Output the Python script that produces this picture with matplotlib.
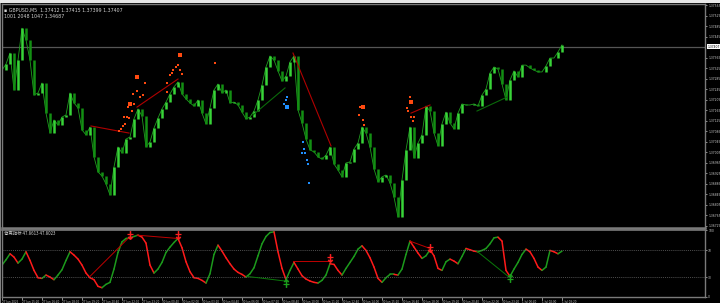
import matplotlib
matplotlib.use("Agg")
import matplotlib.pyplot as plt
import numpy as np
from matplotlib.collections import LineCollection
from matplotlib.patches import Rectangle
from matplotlib import font_manager

W, H, DPI = 720, 303, 100

# ---------------- data ----------------
closes = [
    1.37318, 1.37341, 1.37383, 1.37242, 1.37356, 1.37478, 1.37433, 1.37356, 1.37223, 1.37231,
    1.37269, 1.37154, 1.37078, 1.37128, 1.37109, 1.37139, 1.37147, 1.37231, 1.37193, 1.37174,
    1.37090, 1.37071, 1.37101, 1.36987, 1.36930, 1.36914, 1.36884, 1.36842, 1.36949, 1.37025,
    1.37002, 1.37055, 1.37063, 1.37132, 1.37170, 1.37143, 1.37025, 1.37044, 1.37097, 1.37135,
    1.37170, 1.37196, 1.37227, 1.37254, 1.37273, 1.37227, 1.37208, 1.37193, 1.37181, 1.37204,
    1.37154, 1.37113, 1.37174, 1.37242, 1.37265, 1.37231, 1.37242, 1.37193, 1.37196, 1.37185,
    1.37158, 1.37132, 1.37139, 1.37162, 1.37204, 1.37261, 1.37330, 1.37372, 1.37356, 1.37315,
    1.37276, 1.37295, 1.37349, 1.37372, 1.37166, 1.37116, 1.37055, 1.37014, 1.37006, 1.36987,
    1.36979, 1.36994, 1.37025, 1.36960, 1.36937, 1.36911, 1.36964, 1.36968, 1.37017, 1.37040,
    1.37101, 1.37078, 1.37025, 1.36941, 1.36892, 1.36911, 1.36918, 1.36888, 1.36834, 1.36758,
    1.36899, 1.37014, 1.37101, 1.36983, 1.37040, 1.37071, 1.37181, 1.37162, 1.37078, 1.37029,
    1.37113, 1.37158, 1.37116, 1.37094, 1.37154, 1.37189, 1.37185, 1.37185, 1.37189, 1.37181,
    1.37223, 1.37246, 1.37307, 1.37330, 1.37322, 1.37265, 1.37204, 1.37280, 1.37315, 1.37292,
    1.37337, 1.37337, 1.37326, 1.37318, 1.37311, 1.37311, 1.37334, 1.37364, 1.37364, 1.37387,
    1.37414,
]

osc_values = [
    48, 56, 65, 60, 51, 57, 68, 55, 40, 29,
    28, 33, 30, 26, 33, 41, 55, 68, 63, 57,
    48, 36, 29, 26, 16, 14, 19, 22, 42, 67,
    83, 88, 89, 91, 93, 90, 81, 48, 36, 42,
    52, 67, 75, 82, 88, 74, 53, 38, 29, 28,
    25, 21, 35, 64, 78, 69, 59, 50, 42, 37,
    34, 30, 35, 44, 62, 80, 91, 97, 98, 68,
    43, 26, 40, 52, 42, 32, 27, 24, 22, 21,
    25, 33, 50, 49, 40, 33, 43, 52, 61, 72,
    77, 70, 59, 45, 28, 22, 29, 34, 34, 33,
    42, 64, 84, 75, 66, 58, 62, 71, 62, 43,
    40, 53, 57, 54, 50, 61, 73, 71, 69, 68,
    70, 73, 80, 89, 90, 84, 40, 31, 42, 52,
    64, 72, 68, 58, 45, 40, 45, 70, 68, 65,
    69,
]

# divergence lines on price chart: (bar0, price0, bar1, price1)
price_bear_lines = [(22.25, 1.37105, 31.75, 1.37078), (33.75, 1.37177, 44.0, 1.37284),
                    (72.75, 1.37383, 82.25, 1.37029), (102.25, 1.37154, 107.0, 1.37185)]
price_bull_lines = [(62.75, 1.37147, 70.75, 1.37250), (118.75, 1.37162, 126.25, 1.37215)]

# divergence lines on oscillator
osc_bear_lines = [(22.0, 31, 32.0, 91), (33.75, 93, 44.0, 88), (72.75, 54, 82.25, 54), (102.0, 84, 107.0, 73)]
osc_bull_lines = [(61.25, 31, 70.75, 24), (118.5, 70, 126.75, 30)]

# signal arrows on oscillator
sell_bars = [32, 44, 82, 107]
sell_vals = [93, 93, 58, 73]
buy_bars = [71, 127]
buy_vals = [21, 28]

# dots on price chart
orange_bars = [33.75, 32.75, 33.75, 35.75, 35.25, 34.5, 32, 33, 31.5, 32.5, 31.25, 30.5, 31.75, 30.75,
               30.25, 29.75, 29.25, 44.5, 44, 43.5, 42.75, 44.5, 42.5, 45, 42, 41.25, 41.25, 53.25,
               90.25, 89.5, 89.25, 90.25, 90.5, 102, 102.25, 101.25, 101.5, 102.25, 103, 102.75]
orange_prices = [1.37292, 1.37227, 1.37238, 1.37269, 1.37223, 1.37215, 1.37189, 1.37189, 1.37177, 1.37162,
                 1.37139, 1.37139, 1.37135, 1.37113, 1.37105, 1.37094, 1.37086, 1.37375, 1.37337, 1.37330,
                 1.37318, 1.37318, 1.37307, 1.37303, 1.37299, 1.37269, 1.37235, 1.37345,
                 1.37177, 1.37177, 1.37147, 1.37128, 1.37109, 1.37215, 1.37196, 1.37174, 1.37162,
                 1.37139, 1.37139, 1.37124]
orange_big = [1, 0, 0, 0, 0, 0, 1, 0, 0, 0, 0, 0, 0, 0, 0, 0, 0, 1, 0, 0, 0, 0, 0, 0, 0, 0, 0, 0,
              1, 0, 0, 0, 0, 0, 1, 0, 0, 0, 0, 0]
blue_bars = [71.25, 71, 70.5, 71.25, 75.25, 75.5, 75, 75.75, 76.25, 76.5, 76.75]
blue_prices = [1.37215, 1.37204, 1.37189, 1.37177, 1.37044, 1.37017, 1.37002, 1.37002, 1.36975, 1.36960, 1.36888]
blue_big = [0, 0, 0, 1, 0, 0, 0, 0, 0, 0, 0]

price_ticks = [1.37565, 1.37525, 1.37485, 1.37445, 1.37365, 1.37325, 1.37285, 1.37245, 1.37205,
               1.37165, 1.37125, 1.37085, 1.37045, 1.37005, 1.36965, 1.36925, 1.36885, 1.36845,
               1.36805, 1.36765, 1.36725]
current_price = 1.37407
osc_ticks = [100, 70, 30, 0]
time_labels = ["27 Jun 2025", "27 Jun 15:20", "27 Jun 16:40", "27 Jun 18:00", "27 Jun 19:20",
               "27 Jun 20:40", "27 Jun 22:00", "27 Jun 23:20", "30 Jun 00:40", "30 Jun 02:00",
               "30 Jun 03:20", "30 Jun 04:40", "30 Jun 06:00", "30 Jun 07:20", "30 Jun 08:40",
               "30 Jun 10:00", "30 Jun 11:20", "30 Jun 12:40", "30 Jun 14:00", "30 Jun 15:20",
               "30 Jun 16:40", "30 Jun 18:00", "30 Jun 19:20", "30 Jun 20:40", "30 Jun 22:00",
               "30 Jun 23:20", "1 Jul 00:40", "1 Jul 02:00", "1 Jul 03:20"]
title_line1 = "\u25aa GBPUSD,M5  1.37412 1.37415 1.37399 1.37407"
title_line2 = "1001 2048 1047 1.34687"
osc_title = "背离指标 47.8613 47.8023"

# narrow font for the tiny axis labels, if installed
names = {f.name for f in font_manager.fontManager.ttflist}
NARROW = "Liberation Sans Narrow" if "Liberation Sans Narrow" in names else "DejaVu Sans"
small_fp_size = 2.7 if NARROW != "DejaVu Sans" else 2.2

# ---------------- figure ----------------
fig = plt.figure(figsize=(W / DPI, H / DPI), dpi=DPI, facecolor="black")

def fx(px):
    return px / W

def fy(py):
    return 1 - py / H

fig.patches.append(Rectangle((0, fy(3)), 1, 3 / H, transform=fig.transFigure,
                             facecolor="#e6e6e6", edgecolor="none", zorder=0))
fig.patches.append(Rectangle((0, 0), fx(1.2), fy(3), transform=fig.transFigure,
                             facecolor="#808080", edgecolor="none", zorder=0))

ax = fig.add_axes([fx(1.5), fy(228), fx(705) - fx(1.5), fy(4) - fy(228)])
ax2 = fig.add_axes([fx(1.5), fy(297), fx(705) - fx(1.5), fy(229.5) - fy(297)])

BAR_W = 4.0
xmin = -0.125
xmax = (705 - 2) / BAR_W
for a in (ax, ax2):
    a.set_facecolor("black")
    a.set_xlim(xmin, xmax)
    for s in a.spines.values():
        s.set_color("#7a7a7a")
        s.set_linewidth(1.0)
ax.spines["bottom"].set_linewidth(1.8)
ax2.spines["top"].set_linewidth(1.2)

# price bars
c = np.array(closes)
o = np.concatenate([[c[0]], c[:-1]])
x = np.arange(len(c))
up = c >= o
ax.plot(x, c, color="#1f9f1f", linewidth=0.6, zorder=1)
ax.vlines(x[up], o[up], c[up], color="#38d438", linewidth=1.8, zorder=2)
ax.vlines(x[~up], c[~up], o[~up], color="#138f13", linewidth=1.8, zorder=2)

ax.set_ylim(1.36716, 1.37570)
ax.axhline(current_price, color="#555555", linewidth=0.9, zorder=0.5)

for b0, p0, b1, p1 in price_bear_lines:
    ax.plot([b0, b1], [p0, p1], color="#b00000", linewidth=0.8, zorder=3)
for b0, p0, b1, p1 in price_bull_lines:
    ax.plot([b0, b1], [p0, p1], color="#0a6a0a", linewidth=0.8, zorder=3)

ob = np.array(orange_big, bool)
ax.scatter(np.array(orange_bars)[~ob], np.array(orange_prices)[~ob], s=1.6, marker="s", color="#ff4a10", linewidths=0, zorder=4)
ax.scatter(np.array(orange_bars)[ob], np.array(orange_prices)[ob], s=5, marker="s", color="#ff4a10", linewidths=0, zorder=4)
bb = np.array(blue_big, bool)
ax.scatter(np.array(blue_bars)[~bb], np.array(blue_prices)[~bb], s=1.6, marker="s", color="#2090ff", linewidths=0, zorder=4)
ax.scatter(np.array(blue_bars)[bb], np.array(blue_prices)[bb], s=5, marker="s", color="#2090ff", linewidths=0, zorder=4)

ax.yaxis.tick_right()
ax.set_yticks(price_ticks)
ax.set_yticklabels([f"{p:.5f}" for p in price_ticks], family=NARROW)
ax.tick_params(axis="y", colors="#c8c8c8", labelsize=small_fp_size, length=1.5, width=0.5, pad=0.8)
ax.set_xticks([])
ax.annotate(f"{current_price:.5f}", xy=(1.0, current_price), xycoords=("axes fraction", "data"),
            xytext=(1.6, 0), textcoords="offset points", fontsize=small_fp_size, color="black",
            va="center", ha="left", family=NARROW,
            bbox=dict(boxstyle="square,pad=0.15", facecolor="white", edgecolor="none"))

ax.text(0.004, 0.985, title_line1, transform=ax.transAxes, fontsize=3.4, color="#d0d0d0",
        va="top", ha="left")
ax.text(0.004, 0.955, title_line2, transform=ax.transAxes, fontsize=3.4, color="#d0d0d0",
        va="top", ha="left")

# oscillator
ov = np.array(osc_values, float)
ox = np.arange(len(ov))
segs = [[(ox[i - 1], ov[i - 1]), (ox[i], ov[i])] for i in range(1, len(ov))]
cols = ["#1c9a1c" if ov[i] >= ov[i - 1] else "#ff1a1a" for i in range(1, len(ov))]
ax2.add_collection(LineCollection(segs, colors=cols, linewidths=1.1, capstyle="round"))
ax2.set_ylim(0, 101.5)
for lvl in (70, 30):
    ax2.axhline(lvl, color="#6a6a6a", linewidth=0.5, linestyle=(0, (1.5, 1.5)))

for b0, v0, b1, v1 in osc_bear_lines:
    ax2.plot([b0, b1], [v0, v1], color="#c00000", linewidth=0.7)
for b0, v0, b1, v1 in osc_bull_lines:
    ax2.plot([b0, b1], [v0, v1], color="#0a7a0a", linewidth=0.7)

ax2.plot(sell_bars, sell_vals, linestyle="none", marker=r"$\downarrow$", markersize=6,
         color="#ff2020", markeredgewidth=0.4)
ax2.plot(sell_bars, [v + 1.5 for v in sell_vals], linestyle="none", marker="_", markersize=4,
         color="#ff2020", markeredgewidth=0.9)
ax2.plot(buy_bars, buy_vals, linestyle="none", marker=r"$\uparrow$", markersize=6,
         color="#1ca01c", markeredgewidth=0.4)
ax2.plot(buy_bars, [v - 1.5 for v in buy_vals], linestyle="none", marker="_", markersize=4,
         color="#1ca01c", markeredgewidth=0.9)

ax2.yaxis.tick_right()
ax2.set_yticks(osc_ticks)
ax2.set_yticklabels([str(t) for t in osc_ticks], family=NARROW)
ax2.tick_params(axis="y", colors="#c8c8c8", labelsize=small_fp_size, length=1.5, width=0.5, pad=0.8)
tick_pos = [5 * i for i in range(len(time_labels))]
ax2.set_xticks(tick_pos)
ax2.set_xticklabels(time_labels, ha="left", family=NARROW)
ax2.tick_params(axis="x", colors="#c8c8c8", labelsize=small_fp_size * 0.92, length=2, width=0.5, pad=0.4)
ax2.text(0.004, 0.985, osc_title, transform=ax2.transAxes, fontsize=3.2, color="#d0d0d0",
         va="top", ha="left", family=["Noto Sans CJK SC", "DejaVu Sans"])

fig.savefig("out.png", dpi=DPI, facecolor="black")
